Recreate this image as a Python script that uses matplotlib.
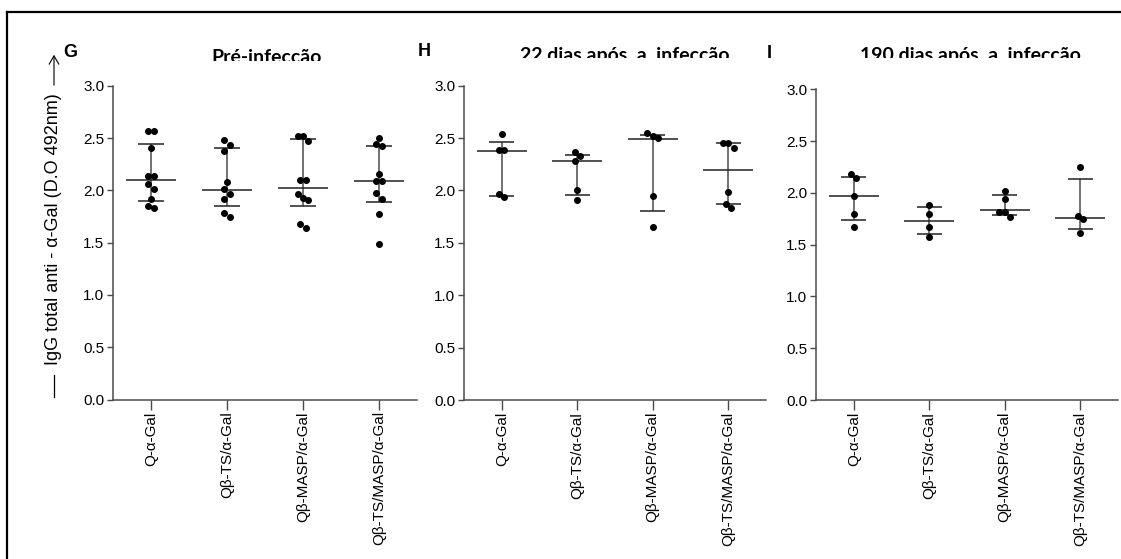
import numpy as np
import matplotlib
matplotlib.use("Agg")
import matplotlib.pyplot as plt
from matplotlib.lines import Line2D
from matplotlib.patches import FancyArrowPatch
from matplotlib.transforms import Bbox, TransformedBbox

plt.rcParams['font.family'] = ['Liberation Sans', 'DejaVu Sans']

groups = ["Q-α-Gal", "Qβ-TS/α-Gal", "Qβ-MASP/α-Gal", "Qβ-TS/MASP/α-Gal"]
titles = ["Pré-infecção", "22 dias após  a  infecção", "190 dias após  a  infecção"]
letters = ["G", "H", "I"]
y_ticks = [0.0, 0.5, 1.0, 1.5, 2.0, 2.5, 3.0]

# pre-infection
pre_values = [
    [2.57, 2.57, 2.40, 2.14, 2.14, 2.06, 2.01, 1.92, 1.85, 1.83],
    [2.48, 2.43, 2.38, 2.08, 2.01, 1.96, 1.92, 1.78, 1.74],
    [2.52, 2.52, 2.47, 2.10, 2.10, 1.96, 1.93, 1.91, 1.68, 1.64],
    [2.50, 2.44, 2.42, 2.16, 2.09, 2.09, 1.97, 1.92, 1.77, 1.49],
]
pre_median = [2.10, 2.00, 2.02, 2.09]
pre_low = [1.90, 1.85, 1.85, 1.89]
pre_high = [2.44, 2.40, 2.49, 2.42]

# 22 days
d22_values = [
    [2.54, 2.39, 2.39, 1.97, 1.94],
    [2.37, 2.33, 2.28, 2.00, 1.91],
    [2.55, 2.52, 2.50, 1.95, 1.65],
    [2.45, 2.45, 2.41, 1.99, 1.87, 1.83],
]
d22_median = [2.38, 2.28, 2.49, 2.20]
d22_low = [1.95, 1.96, 1.80, 1.87]
d22_high = [2.46, 2.34, 2.53, 2.45]

# 190 days
d190_values = [
    [2.18, 2.14, 1.97, 1.80, 1.67],
    [1.88, 1.80, 1.67, 1.57],
    [2.02, 1.94, 1.82, 1.82, 1.77],
    [2.25, 1.78, 1.75, 1.61],
]
d190_median = [1.97, 1.73, 1.83, 1.76]
d190_low = [1.74, 1.60, 1.79, 1.65]
d190_high = [2.15, 1.86, 1.98, 2.13]

panels = [
    (pre_values, pre_median, pre_low, pre_high),
    (d22_values, d22_median, d22_low, d22_high),
    (d190_values, d190_median, d190_low, d190_high),
]

W, H = 1121, 559
fig = plt.figure(figsize=(W / 100, H / 100), dpi=100)


def px(x, y):
    return x / W, 1 - y / H


# axes boxes in pixels: left, right, top, bottom
boxes = [(113, 417, 85.7, 399.5), (464, 766, 85.7, 400), (816, 1118, 89.3, 400)]
# title centre x, baseline y, clip y
title_pos = [(267, 63, 61), (625, 60.5, 58), (970, 60.5, 58)]
letter_pos = [(63, 57), (418, 55.5), (767, 58)]
line_col = '#4a4a4a'


def swarm_offsets(ax, vals, dot_px):
    # simple swarm: chain close points, spread or zig-zag them
    pts = ax.transData.transform(np.column_stack([np.zeros(len(vals)), vals]))
    ypx = pts[:, 1]
    xunit = ax.transData.transform([(1, 0)])[0, 0] - ax.transData.transform([(0, 0)])[0, 0]
    order = np.argsort(-np.asarray(vals))
    offs = np.zeros(len(vals))
    chains = [[order[0]]]
    for i in order[1:]:
        if abs(ypx[chains[-1][-1]] - ypx[i]) < 6:
            chains[-1].append(i)
        else:
            chains.append([i])
    for ch in chains:
        k = len(ch)
        if k == 1:
            continue
        span = abs(ypx[ch[0]] - ypx[ch[-1]])
        if k == 2 or span < dot_px:
            for j, i in enumerate(ch):
                offs[i] = (j - (k - 1) / 2) * dot_px
        else:
            for j, i in enumerate(ch):
                offs[i] = (-0.5 if j % 2 == 0 else 0.5) * dot_px
    return offs / xunit


for p, (vals, med, low, high) in enumerate(panels):
    l, r, t, b = boxes[p]
    ax = fig.add_axes([l / W, 1 - b / H, (r - l) / W, (b - t) / H])
    ax.set_xlim(-0.5, 3.5)
    ax.set_ylim(0, 3.0)
    for s in ['top', 'right']:
        ax.spines[s].set_visible(False)
    for s in ['left', 'bottom']:
        ax.spines[s].set_color(line_col)
        ax.spines[s].set_linewidth(1.1)
    ax.set_yticks(y_ticks)
    ax.set_yticklabels([f"{v:.1f}" for v in y_ticks], fontsize=11)
    ax.set_xticks(range(len(groups)))
    ax.set_xticklabels(groups, rotation=90, fontsize=11)
    ax.tick_params(axis='y', length=4.3, width=1.0, color=line_col, pad=2)
    ax.tick_params(axis='x', length=7, width=1.0, color=line_col, pad=1.5)

    for i in range(len(groups)):
        ax.vlines(i, low[i], high[i], color=line_col, lw=1.1, zorder=2)
        ax.hlines([low[i], high[i]], i - 0.165, i + 0.165, color='#222222', lw=1.1, zorder=2)
        ax.hlines(med[i], i - 0.33, i + 0.33, color='#222222', lw=1.1, zorder=2)
        offs = swarm_offsets(ax, vals[i], 5.3)
        ax.plot(i + offs, vals[i], 'o', color='black', ms=4, zorder=3, clip_on=False)

    # titles are cut off near the baseline, as in the source figure
    tx, ty, cy = title_pos[p]
    clip = TransformedBbox(Bbox.from_extents(0, 1 - cy / H, 1, 1), fig.transFigure)
    fig.text(*px(tx, ty), titles[p], ha='center', va='baseline', fontsize=14,
             fontweight='bold', family=['Lato', 'DejaVu Sans'], clip_on=True, clip_box=clip)
    lx, ly = letter_pos[p]
    fig.text(*px(lx, ly), letters[p], ha='left', va='baseline', fontsize=13, fontweight='bold')

# y label with leading line and arrow
fig.text(*px(54, 229), "IgG total anti - α-Gal (D.O 492nm)", rotation=90,
         ha='center', va='center', fontsize=13)
fig.add_artist(Line2D([54 / W, 54 / W], [1 - 375 / H, 1 - 397 / H], color='black', lw=0.9))
fig.add_artist(FancyArrowPatch(
    px(54, 88), px(54, 52), arrowstyle='->,head_length=6,head_width=3.5',
    color='black', lw=0.8, transform=fig.transFigure))

# outer frame (left and top edges)
fig.add_artist(Line2D([7 / W, 7 / W], [0, 1 - 12 / H], color='black', lw=1.6))
fig.add_artist(Line2D([7 / W, 1], [1 - 12 / H, 1 - 12 / H], color='black', lw=1.6))

fig.savefig("out.png", dpi=100)
